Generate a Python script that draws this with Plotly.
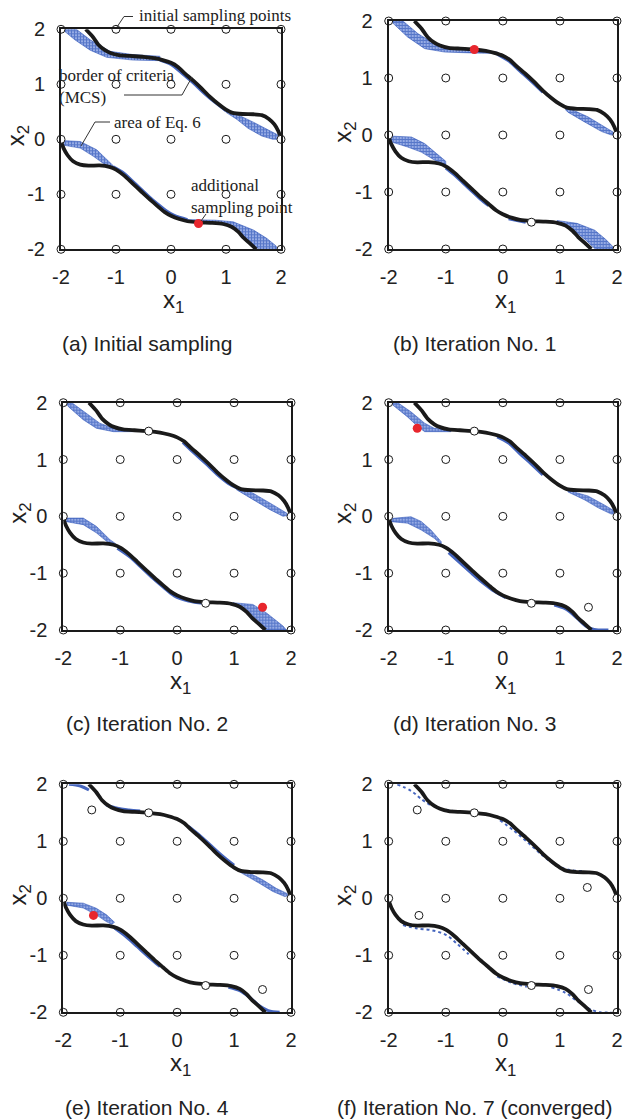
import plotly.graph_objects as go

W, H = 623, 1119

# ---------------- data ----------------
GRID = [-2, -1, 0, 1, 2]
TICK_TEXT = ["-2", "-1", "0", "1", "2"]

# border of criteria (MCS), upper branch
UPPER_X = [-1.55, -1.42, -1.32, -1.20, -1.10, -0.95, -0.75, -0.50, -0.30, -0.15, 0.00, 0.12, 0.25,
           0.40, 0.55, 0.70, 0.85, 1.00, 1.12, 1.30, 1.50, 1.65, 1.78, 1.88, 1.95, 2.00]
UPPER_Y = [2.00, 1.86, 1.72, 1.62, 1.57, 1.53, 1.515, 1.50, 1.475, 1.44, 1.39, 1.32, 1.20,
           1.07, 0.93, 0.78, 0.65, 0.54, 0.48, 0.46, 0.455, 0.44, 0.37, 0.27, 0.15, 0.02]
# lower branch
LOWER_X = [-2.00, -1.95, -1.88, -1.78, -1.65, -1.50, -1.30, -1.12, -1.00, -0.85, -0.70, -0.55, -0.40,
           -0.25, -0.12, 0.00, 0.15, 0.30, 0.50, 0.75, 0.95, 1.10, 1.22, 1.32, 1.42, 1.55]
LOWER_Y = [-0.04, -0.17, -0.29, -0.40, -0.46, -0.48, -0.475, -0.50, -0.55, -0.66, -0.80, -0.94, -1.08,
           -1.21, -1.32, -1.39, -1.45, -1.49, -1.51, -1.52, -1.54, -1.59, -1.68, -1.79, -1.88, -2.00]

# additional sampling points, in the order they were added
ADDED_X = [0.50, -0.50, 1.50, -1.50, -1.47, 1.48]
ADDED_Y = [-1.53, 1.50, -1.60, 1.55, -0.30, 0.19]
N_PREVIOUS = [0, 1, 2, 3, 4, 6]       # earlier added points shown (white)
RED_INDEX = [0, 1, 2, 3, 4, None]     # newly added point (red)

CAPTIONS = ["(a) Initial sampling", "(b) Iteration No. 1", "(c) Iteration No. 2",
            "(d) Iteration No. 3", "(e) Iteration No. 4", "(f) Iteration No. 7 (converged)"]

# area of Eq. 6 (hatched polygons)
BAND_A_UL = [(-1.95, 2.0), (-1.72, 2.0), (-1.47, 1.81), (-1.11, 1.60), (-0.69, 1.54), (-0.2, 1.51),
             (-0.2, 1.43), (-0.69, 1.44), (-1.17, 1.49), (-1.47, 1.62), (-1.75, 1.81), (-1.93, 1.96)]
BAND_A_UR = [(1.0, 0.52), (1.25, 0.43), (1.5, 0.31), (1.74, 0.19), (1.92, 0.09), (2.0, 0.05),
             (2.0, 0.0), (1.85, 0.0), (1.65, 0.06), (1.4, 0.2), (1.2, 0.36), (1.0, 0.49)]
BAND_A_LL = [(-2.0, -0.02), (-1.65, -0.04), (-1.35, -0.19), (-1.17, -0.37), (-1.05, -0.48),
             (-1.05, -0.52), (-1.23, -0.44), (-1.41, -0.31), (-1.65, -0.16), (-2.0, -0.10)]
BAND_A_LR = [(0.3, -1.46), (0.8, -1.47), (1.13, -1.50), (1.5, -1.65), (1.74, -1.80), (1.9, -1.93), (1.95, -2.0),
             (1.6, -2.0), (1.45, -1.88), (1.3, -1.75), (1.15, -1.62), (1.0, -1.56), (0.8, -1.535), (0.3, -1.50)]

BAND_B_UL = [(-1.93, 2.0), (-1.75, 2.0), (-1.49, 1.78), (-1.2, 1.60), (-0.9, 1.53), (-0.56, 1.515), (-0.1, 1.455),
             (-0.1, 1.43), (-0.56, 1.44), (-1.02, 1.455), (-1.37, 1.515), (-1.67, 1.72), (-1.93, 1.965)]
BAND_B_UR = [(1.1, 0.47), (1.2, 0.45), (1.49, 0.32), (1.78, 0.14), (1.96, 0.035), (2.0, 0.02),
             (2.0, 0.0), (1.9, 0.0), (1.73, 0.06), (1.43, 0.23), (1.14, 0.40), (1.1, 0.44)]
BAND_B_LL = [(-1.96, -0.02), (-1.6, -0.035), (-1.37, -0.15), (-1.08, -0.386), (-1.0, -0.46),
             (-1.0, -0.52), (-1.2, -0.44), (-1.43, -0.30), (-1.67, -0.21), (-1.96, -0.12)]
BAND_B_LR = [(0.95, -1.50), (1.3, -1.55), (1.61, -1.67), (1.8, -1.83), (1.96, -1.99),
             (1.95, -2.0), (1.62, -2.0), (1.45, -1.84), (1.3, -1.72), (1.14, -1.61), (0.95, -1.54)]

BAND_C_UL = [(-1.95, 2.0), (-1.85, 2.0), (-1.59, 1.81), (-1.36, 1.64), (-1.12, 1.55), (-0.77, 1.52),
             (-0.77, 1.49), (-1.12, 1.49), (-1.42, 1.55), (-1.65, 1.70), (-1.91, 1.93)]
BAND_C_UR = [(1.04, 0.52), (1.33, 0.41), (1.68, 0.205), (1.92, 0.06), (1.96, 0.02),
             (1.86, 0.0), (1.63, 0.117), (1.33, 0.29), (1.04, 0.47)]
BAND_C_LL = [(-1.94, -0.03), (-1.65, -0.03), (-1.42, -0.175), (-1.18, -0.41), (-1.08, -0.48),
             (-1.1, -0.52), (-1.24, -0.44), (-1.42, -0.29), (-1.65, -0.146), (-1.97, -0.09)]
BAND_C_LR = [(0.98, -1.52), (1.33, -1.55), (1.57, -1.70), (1.86, -1.93), (1.92, -2.0),
             (1.54, -2.0), (1.33, -1.76), (1.1, -1.58)]

BAND_D_UL = [(-1.95, 2.0), (-1.84, 2.0), (-1.61, 1.84), (-1.37, 1.64), (-1.2, 1.55), (-0.91, 1.52),
             (-0.91, 1.49), (-1.37, 1.49), (-1.49, 1.58), (-1.67, 1.75), (-1.93, 1.96)]
BAND_D_UR = [(1.14, 0.46), (1.49, 0.36), (1.78, 0.2), (1.93, 0.11), (1.98, 0.04),
             (1.9, 0.04), (1.67, 0.15), (1.43, 0.29), (1.14, 0.43)]
BAND_D_LL = [(-1.93, -0.035), (-1.61, -0.006), (-1.43, -0.09), (-1.26, -0.24), (-1.08, -0.445),
             (-1.08, -0.5), (-1.2, -0.387), (-1.43, -0.24), (-1.67, -0.12), (-1.96, -0.094)]

BAND_E_UR = [(1.1, 0.5), (1.22, 0.47), (1.51, 0.32), (1.74, 0.175), (1.92, 0.09), (1.97, 0.05),
             (1.89, 0.03), (1.68, 0.12), (1.45, 0.26), (1.19, 0.41), (1.1, 0.46)]
BAND_E_LL = [(-1.94, -0.07), (-1.65, -0.085), (-1.42, -0.175), (-1.24, -0.29), (-1.1, -0.42),
             (-1.15, -0.46), (-1.26, -0.4), (-1.42, -0.29), (-1.65, -0.17), (-1.94, -0.12)]

# thin parts of the area of Eq. 6 along the border
STRIP_A_U = [(-0.2, 1.44), (0.0, 1.36), (0.2, 1.2), (0.4, 1.03), (0.6, 0.84), (0.8, 0.67), (1.0, 0.52)]
STRIP_A_L = [(-1.05, -0.5), (-0.85, -0.62), (-0.7, -0.76), (-0.55, -0.9), (-0.4, -1.04), (-0.25, -1.17),
             (-0.1, -1.29), (0.05, -1.38), (0.3, -1.46)]
STRIP_B_U = [(-0.1, 1.42), (0.1, 1.3), (0.3, 1.12), (0.5, 0.94), (0.7, 0.75)]
STRIP_B_L = [(-1.0, -0.58), (-0.85, -0.7), (-0.7, -0.84), (-0.55, -0.98), (-0.4, -1.12), (-0.25, -1.24)]
STRIP_B_L2 = [(0.1, -1.47), (0.25, -1.5), (0.4, -1.53)]
STRIP_C_U = [(0.1, 1.3), (0.3, 1.11), (0.5, 0.93), (0.7, 0.74), (0.9, 0.58), (1.05, 0.5)]
STRIP_C_L = [(-1.05, -0.56), (-0.85, -0.7), (-0.65, -0.88), (-0.45, -1.07), (-0.25, -1.24), (-0.05, -1.4),
             (0.2, -1.49), (0.45, -1.53)]
STRIP_D_U = [(-0.1, 1.4), (0.1, 1.29), (0.3, 1.1), (0.5, 0.92), (0.7, 0.73)]
STRIP_D_L = [(-0.95, -0.64), (-0.75, -0.82), (-0.55, -1.0), (-0.35, -1.17), (-0.15, -1.32), (0.05, -1.43)]
STRIP_D_LR = [(0.9, -1.56), (1.1, -1.63), (1.3, -1.79), (1.45, -1.93), (1.6, -1.99), (1.85, -2.0)]
STRIP_E_UL = [(-1.9, 2.0), (-1.7, 1.97), (-1.55, 1.9)]
STRIP_E_U1 = [(-1.25, 1.64), (-1.05, 1.58), (-0.85, 1.55), (-0.65, 1.53)]
STRIP_E_U2 = [(0.2, 1.26), (0.4, 1.1), (0.6, 0.92), (0.8, 0.74), (1.0, 0.58)]
STRIP_E_L = [(-1.1, -0.52), (-0.9, -0.67), (-0.7, -0.85), (-0.5, -1.03), (-0.3, -1.2)]
STRIP_E_LR = [(0.9, -1.56), (1.1, -1.62), (1.3, -1.76), (1.45, -1.89), (1.6, -1.97), (1.8, -2.0)]
STRIP_F_U1 = [(-1.85, 2.0), (-1.6, 1.88), (-1.43, 1.74), (-1.25, 1.62)]
STRIP_F_U2 = [(-1.1, 1.57), (-0.85, 1.53), (-0.56, 1.5)]
STRIP_F_U3 = [(-0.05, 1.37), (0.2, 1.18), (0.45, 0.97), (0.7, 0.75), (0.95, 0.57), (1.2, 0.49), (1.43, 0.48)]
STRIP_F_L1 = [(-1.75, -0.47), (-1.5, -0.53), (-1.25, -0.56), (-1.0, -0.64), (-0.8, -0.8), (-0.6, -0.98)]
STRIP_F_L2 = [(-0.1, -1.37), (0.15, -1.48), (0.42, -1.55)]
STRIP_F_L3 = [(0.85, -1.56), (1.1, -1.66), (1.3, -1.8), (1.5, -1.93), (1.7, -2.0), (1.9, -2.0)]

PANEL_BANDS = [
    [BAND_A_UL, BAND_A_UR, BAND_A_LL, BAND_A_LR],
    [BAND_B_UL, BAND_B_UR, BAND_B_LL, BAND_B_LR],
    [BAND_C_UL, BAND_C_UR, BAND_C_LL, BAND_C_LR],
    [BAND_D_UL, BAND_D_UR, BAND_D_LL],
    [BAND_E_UR, BAND_E_LL],
    [],
]
PANEL_STRIPS = [
    [STRIP_A_U, STRIP_A_L],
    [STRIP_B_U, STRIP_B_L, STRIP_B_L2],
    [STRIP_C_U, STRIP_C_L],
    [STRIP_D_U, STRIP_D_L, STRIP_D_LR],
    [STRIP_E_UL, STRIP_E_U1, STRIP_E_U2, STRIP_E_L, STRIP_E_LR],
    [STRIP_F_U1, STRIP_F_U2, STRIP_F_U3, STRIP_F_L1, STRIP_F_L2, STRIP_F_L3],
]

# ---------------- layout geometry (pixels) ----------------
# left, right, top, bottom of each plot box
RECTS = [(61, 281, 29.3, 249.3), (388.7, 617, 21, 249),
         (63.3, 291, 402.7, 630), (388.7, 617, 402.7, 630),
         (63.3, 291, 784.3, 1012.3), (388.7, 617, 784.3, 1012.3)]
CAPTION_POS = [(147, 343), (474, 343), (147, 723), (474, 723), (147, 1107), (474, 1107)]

SANS = "Liberation Sans, Arial, sans-serif"
SERIF = "Liberation Serif, Times New Roman, serif"
HATCH = "#163fae"
INK = "#1a1a1a"


def px(xp):
    return xp / W


def py(yp):
    return 1 - yp / H


fig = go.Figure()
layout = dict(width=W, height=H, margin=dict(l=0, r=0, t=0, b=0, autoexpand=False),
              paper_bgcolor="white", plot_bgcolor="white", showlegend=False)
annotations = []
shapes = []

gx = [x for y in GRID for x in GRID]
gy = [y for y in GRID for x in GRID]

for i in range(6):
    l, r, t, b = RECTS[i]
    sfx = "" if i == 0 else str(i + 1)
    xa, ya = "x" + sfx, "y" + sfx
    axis_common = dict(range=[-2, 2], showgrid=False, zeroline=False, showline=True, mirror=True,
                       linecolor=INK, linewidth=2, ticks="", tickvals=GRID, ticktext=TICK_TEXT,
                       tickfont=dict(family=SANS, size=20, color="#222"), fixedrange=True,
                       automargin=False)
    layout["xaxis" + sfx] = dict(axis_common, domain=[px(l), px(r)], anchor=ya, ticklabelstandoff=9)
    layout["yaxis" + sfx] = dict(axis_common, domain=[py(b), py(t)], anchor=xa, ticklabelstandoff=10)

    for band in PANEL_BANDS[i]:
        fig.add_trace(go.Scatter(
            x=[p[0] for p in band] + [band[0][0]], y=[p[1] for p in band] + [band[0][1]],
            xaxis=xa, yaxis=ya, mode="lines", fill="toself",
            line=dict(width=0.8, color="rgba(22,63,174,0.6)"),
            fillcolor="rgba(60,95,200,0.65)",
            fillpattern=dict(shape="+", fgcolor=HATCH, bgcolor="rgba(85,120,212,0.6)", size=3, solidity=0.6),
            hoverinfo="skip"))
    for strip in PANEL_STRIPS[i]:
        fig.add_trace(go.Scatter(
            x=[p[0] for p in strip], y=[p[1] for p in strip], xaxis=xa, yaxis=ya, mode="lines",
            line=dict(width=3 if i < 5 else 2, color="rgba(22,63,174,0.8)", shape="spline",
                      dash="solid" if i < 5 else "dot"),
            hoverinfo="skip"))

    for cx, cy in ((UPPER_X, UPPER_Y), (LOWER_X, LOWER_Y)):
        fig.add_trace(go.Scatter(x=cx, y=cy, xaxis=xa, yaxis=ya, mode="lines",
                                 line=dict(color=INK, width=3.8, shape="spline", smoothing=0.6),
                                 hoverinfo="skip"))

    wx = gx + ADDED_X[:N_PREVIOUS[i]]
    wy = gy + ADDED_Y[:N_PREVIOUS[i]]
    fig.add_trace(go.Scatter(x=wx, y=wy, xaxis=xa, yaxis=ya, mode="markers", cliponaxis=False,
                             marker=dict(size=8, color="white", line=dict(color=INK, width=1)),
                             hoverinfo="skip"))
    if RED_INDEX[i] is not None:
        k = RED_INDEX[i]
        fig.add_trace(go.Scatter(x=[ADDED_X[k]], y=[ADDED_Y[k]], xaxis=xa, yaxis=ya, mode="markers",
                                 cliponaxis=False, marker=dict(size=9, color="#e8262d"),
                                 hoverinfo="skip"))

    # axis titles
    annotations.append(dict(xref="paper", yref="paper", x=px((l + r) / 2 + 3), y=py(b + 52),
                            text="x<sub>1</sub>", showarrow=False, xanchor="center", yanchor="middle",
                            font=dict(family=SANS, size=24, color="#222")))
    annotations.append(dict(xref="paper", yref="paper", x=px(l - 44), y=py((t + b) / 2 - 3),
                            text="x<sub>2</sub>", showarrow=False, textangle=-90,
                            xanchor="center", yanchor="middle",
                            font=dict(family=SANS, size=24, color="#222")))
    cx_, cy_ = CAPTION_POS[i]
    annotations.append(dict(xref="paper", yref="paper", x=px(cx_), y=py(cy_), text=CAPTIONS[i],
                            showarrow=False, xanchor="center", yanchor="middle",
                            font=dict(family=SANS, size=21, color="#222")))

# explanatory labels in panel (a)
NOTE_FONT = dict(family=SERIF, size=17, color="#222")
annotations += [
    dict(xref="paper", yref="paper", x=px(137), y=py(15), text="initial sampling points",
         showarrow=False, xanchor="left", yanchor="middle", font=NOTE_FONT),
    dict(xref="paper", yref="paper", x=px(57), y=py(86), text="border of criteria<br>(MCS)",
         showarrow=False, xanchor="left", yanchor="middle", align="left", font=NOTE_FONT),
    dict(xref="paper", yref="paper", x=px(112), y=py(122), text="area of Eq. 6",
         showarrow=False, xanchor="left", yanchor="middle", font=NOTE_FONT),
    dict(xref="paper", yref="paper", x=px(189), y=py(196), text="additional<br>sampling point",
         showarrow=False, xanchor="left", yanchor="middle", align="left", font=NOTE_FONT),
]


def leader(points):
    d = "M " + " L ".join(f"{px(a):.5f},{py(b_):.5f}" for a, b_ in points)
    return dict(type="path", xref="paper", yref="paper", path=d,
                line=dict(color="#333", width=1))


shapes += [
    leader([(117, 27), (124, 16.5), (133, 16.5)]),
    leader([(124, 95), (182, 95), (192, 77)]),
    leader([(81, 146), (95, 122), (110, 122)]),
    leader([(201, 221), (206, 214)]),
]

layout["annotations"] = annotations
layout["shapes"] = shapes
fig.update_layout(**layout)
fig.write_html("out.html")
